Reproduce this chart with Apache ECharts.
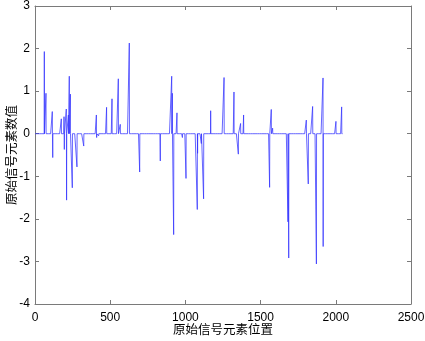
<!DOCTYPE html>
<html>
<head>
<meta charset="utf-8">
<script src="https://cdn.jsdelivr.net/npm/echarts@6/dist/echarts.min.js"></script>
<style>
html,body{margin:0;padding:0;background:#fff;}
#chart{width:425px;height:341px;}
</style>
</head>
<body>
<div id="chart"></div>
<script>
// 信号长度
var signalLength = 2048;
// 非零元素位置
var spikePos = [62, 73, 115, 118, 175, 193, 195, 208, 210, 222, 228, 235, 248, 279, 324,
	408, 410, 423, 476, 512, 554, 567, 594, 627, 696, 760, 833, 909, 913, 922, 944,
	980, 1004, 1079, 1081, 1106, 1121, 1168, 1257, 1323, 1352, 1367, 1387, 1560, 1571,
	1580, 1682, 1687, 1804, 1817, 1846, 1871, 1915, 1916, 2001, 2039];
// 非零元素数值
var spikeVal = [1.93, 0.95, 0.52, -0.56, 0.35, 0.4, -0.37, 0.58, -1.56, 0.44, 1.35, 0.93, -1.27, -0.78, -0.29,
	0.44, -0.09, -0.05, 0.62, 0.82, 1.29, 0.22, -0.03, 2.13, -0.9, 0.02, -0.64, 1.35, 0.95, -2.37, 0.49,
	-0.09, -1.05, -1.78, -0.46, -0.23, -1.53, 0.54, 1.32, 0.98, -0.48, 0.24, 0.44, -1.26, 0.57,
	0.13, -2.07, -2.92, 0.32, -1.18, 0.64, -3.06, 1.31, -2.65, 0.29, 0.63];
var xTicks = [0, 500, 1000, 1500, 2000, 2500];
var yTicks = [-4, -3, -2, -1, 0, 1, 2, 3];

var chart = echarts.init(document.getElementById('chart'));

var signal = [];
for (var i = 1; i <= signalLength; i++) {
	signal.push([i, 0]);
}
for (var k = 0; k < spikePos.length; k++) {
	signal[spikePos[k] - 1][1] = spikeVal[k];
}

var axisColor = '#7a7a7a';
var labelFont = {color: '#000', fontSize: 12, fontFamily: 'Liberation Sans, Arial',
	formatter: function(v){ return String(v); }};
var nameFont = {color: '#000', fontSize: 12.5, fontFamily: 'Noto Sans CJK SC'};

var option = {
	animation: false,
	grid: {left: 35, right: 14, top: 6, bottom: 37, containLabel: false, outerBoundsMode: 'none'},
	xAxis: [{
		type: 'value', min: xTicks[0], max: xTicks[xTicks.length - 1], interval: 500,
		name: '原始信号元素位置', nameLocation: 'middle', nameGap: 19, nameMoveOverlap: false,
		nameTextStyle: nameFont,
		axisLine: {onZero: false, lineStyle: {color: axisColor}},
		axisTick: {inside: true, length: 4, lineStyle: {color: axisColor}},
		axisLabel: Object.assign({margin: 8}, labelFont),
		splitLine: {show: false}
	}, {
		type: 'value', position: 'top', min: xTicks[0], max: xTicks[xTicks.length - 1], interval: 500,
		axisLine: {show: true, onZero: false, lineStyle: {color: axisColor}},
		axisTick: {show: true, inside: true, length: 4, lineStyle: {color: axisColor}},
		axisLabel: {show: false},
		splitLine: {show: false}
	}],
	yAxis: [{
		type: 'value', min: yTicks[0], max: yTicks[yTicks.length - 1], interval: 1,
		name: '原始信号元素数值', nameLocation: 'middle', nameGap: 17, nameMoveOverlap: false,
		nameTextStyle: nameFont,
		axisLine: {show: true, onZero: false, lineStyle: {color: axisColor}},
		axisTick: {show: true, inside: true, length: 4, lineStyle: {color: axisColor}},
		axisLabel: Object.assign({margin: 5}, labelFont),
		splitLine: {show: false}
	}, {
		type: 'value', position: 'right', min: yTicks[0], max: yTicks[yTicks.length - 1], interval: 1,
		axisLine: {show: true, onZero: false, lineStyle: {color: axisColor}},
		axisTick: {show: true, inside: true, length: 4, lineStyle: {color: axisColor}},
		axisLabel: {show: false},
		splitLine: {show: false}
	}],
	series: [{
		type: 'line',
		data: signal,
		symbol: 'none',
		sampling: null,
		lineStyle: {color: '#3333ff', width: 1, opacity: 0.75}
	}]
};
chart.setOption(option);
</script>
</body>
</html>
